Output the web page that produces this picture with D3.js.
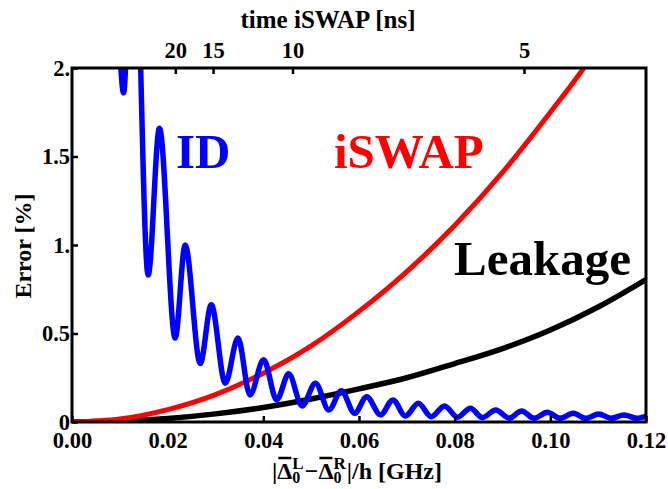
<!DOCTYPE html>
<html>
<head>
<meta charset="utf-8">
<script src="https://d3js.org/d3.v7.min.js"></script>
<style>
  body { margin: 0; background: #fff; }
  text { font-family: "Liberation Serif", "Times New Roman", serif; font-weight: bold; }
</style>
</head>
<body>
<div id="graph-area"></div>
<script>

    // x values in GHz, y values in %
    const iswapX = [0, 0.01, 0.02, 0.03, 0.04, 0.05, 0.06, 0.07, 0.08, 0.09, 0.10, 0.107, 0.112];
    const iswapY = [0, 0.017, 0.07, 0.155, 0.276, 0.43, 0.625, 0.85, 1.11, 1.41, 1.75, 2.0, 2.2];

    const leakX = [0, 0.01, 0.02, 0.03, 0.04, 0.05, 0.06, 0.07, 0.08, 0.09, 0.10, 0.11, 0.12];
    const leakY = [0, 0.005, 0.02, 0.046, 0.082, 0.13, 0.187, 0.25, 0.33, 0.415, 0.52, 0.65, 0.805];

    // peaks and troughs of the ID error curve
    const idX = [0.0060, 0.00796, 0.01079, 0.01277, 0.01592, 0.01828, 0.02157, 0.02366, 0.02681, 0.02911,
                 0.03204, 0.03470, 0.0372, 0.04006, 0.0428, 0.0453, 0.0481, 0.0509, 0.0537, 0.0563,
                 0.0591, 0.0616, 0.0645, 0.0671, 0.0697, 0.0724, 0.0751, 0.0779, 0.0806, 0.0833,
                 0.0858, 0.0886, 0.0914, 0.0940, 0.0966, 0.0994, 0.1020, 0.1048, 0.1074, 0.1101,
                 0.1127, 0.1154, 0.1181, 0.12];
    const idY = [6.0, 4.0, 1.86, 3.2, 0.83, 1.66, 0.474, 1.00, 0.33, 0.663,
                 0.219, 0.474, 0.153, 0.351, 0.125, 0.272, 0.091, 0.219, 0.068, 0.177,
                 0.049, 0.143, 0.040, 0.125, 0.034, 0.106, 0.030, 0.091, 0.027, 0.078,
                 0.025, 0.068, 0.022, 0.062, 0.021, 0.055, 0.021, 0.049, 0.021, 0.045,
                 0.021, 0.040, 0.021, 0.034];

    const xTicks = [0, 0.02, 0.04, 0.06, 0.08, 0.10, 0.12];
    const yTicks = [0, 0.5, 1, 1.5, 2];
    const yTickLabels = ["0", "0.5", "1.", "1.5", "2."];
    // top axis: iSWAP time in ns and where it falls on the bottom axis
    const topTickLabels = ["20", "15", "10", "5"];
    const topTickX = [0.0216, 0.0295, 0.0461, 0.0945];

    const w = 668;
    const h = 489;
    const pLeft = 72, pRight = 646, pTop = 68, pBottom = 422;

    const xScale = d3.scaleLinear().domain([0, 0.12]).range([pLeft, pRight]);
    const yScale = d3.scaleLinear().domain([0, 2]).range([pBottom, pTop]);

    const svg = d3.select("#graph-area").append("svg")
                  .attr("width", w)
                  .attr("height", h);

    svg.append("defs").append("clipPath").attr("id", "plot-clip")
       .append("rect")
       .attr("x", pLeft).attr("y", pTop)
       .attr("width", pRight - pLeft).attr("height", pBottom - pTop);

    const line = d3.line()
                   .x((d) => xScale(d[0]))
                   .y((d) => yScale(d[1]))
                   .curve(d3.curveMonotoneX);

    const plot = svg.append("g").attr("clip-path", "url(#plot-clip)");

    plot.append("path")
        .datum(leakX.map((x, i) => [x, leakY[i]]))
        .attr("d", line)
        .attr("fill", "none")
        .attr("stroke", "#000")
        .attr("stroke-width", 5.5);

    plot.append("path")
        .datum(iswapX.map((x, i) => [x, iswapY[i]]))
        .attr("d", line)
        .attr("fill", "none")
        .attr("stroke", "#ff0000")
        .attr("stroke-width", 5);

    plot.append("path")
        .datum(idX.map((x, i) => [x, idY[i]]))
        .attr("d", line)
        .attr("fill", "none")
        .attr("stroke", "#0000ff")
        .attr("stroke-width", 5.5);

    // frame
    svg.append("rect")
       .attr("x", pLeft).attr("y", pTop)
       .attr("width", pRight - pLeft).attr("height", pBottom - pTop)
       .attr("fill", "none")
       .attr("stroke", "#000")
       .attr("stroke-width", 3);

    // bottom axis
    const xAxis = d3.axisBottom(xScale)
                    .tickValues(xTicks)
                    .tickSizeInner(-6).tickSizeOuter(0)
                    .tickPadding(10)
                    .tickFormat(d3.format(".2f"));
    const gx = svg.append("g")
       .attr("transform", "translate(0," + pBottom + ")")
       .call(xAxis);
    gx.select(".domain").remove();
    gx.selectAll("line").attr("stroke-width", 2.5);
    gx.selectAll("text").style("font-size", "22.5px").attr("fill", "#000");

    // left axis
    const yAxis = d3.axisLeft(yScale)
                    .tickValues(yTicks)
                    .tickSizeInner(-6).tickSizeOuter(0)
                    .tickPadding(2)
                    .tickFormat((d, i) => yTickLabels[i]);
    const gy = svg.append("g")
       .attr("transform", "translate(" + pLeft + ",0)")
       .call(yAxis);
    gy.select(".domain").remove();
    gy.selectAll("line").attr("stroke-width", 2.5);
    gy.selectAll("text").style("font-size", "22.5px").attr("fill", "#000");

    // top axis (iSWAP time)
    const tAxis = d3.axisTop(xScale)
                    .tickValues(topTickX)
                    .tickSizeInner(-6).tickSizeOuter(0)
                    .tickPadding(10)
                    .tickFormat((d, i) => topTickLabels[i]);
    const gt = svg.append("g")
       .attr("transform", "translate(0," + pTop + ")")
       .call(tAxis);
    gt.select(".domain").remove();
    gt.selectAll("line").attr("stroke-width", 2.5);
    gt.selectAll("text").style("font-size", "22.5px").attr("fill", "#000");

    // axis titles
    svg.append("text")
       .attr("x", 328)
       .attr("y", 28)
       .style("text-anchor", "middle")
       .style("font-size", "25px")
       .text("time iSWAP [ns]");

    svg.append("text")
       .attr("transform", "translate(31," + 246 + ") rotate(-90)")
       .style("text-anchor", "middle")
       .style("font-size", "24px")
       .text("Error [%]");

    // x title: |Δ̄0^L − Δ̄0^R|/h [GHz], built piece by piece
    const xt = svg.append("g");
    let cx = 0;
    function piece(str) {
      const t = xt.append("text").attr("x", cx).attr("y", 0).style("font-size", "24px").text(str);
      const wd = t.node().getComputedTextLength();
      cx += wd;
      return wd;
    }
    function delta() {
      const wd = piece("\u0394");
      xt.append("line")
        .attr("x1", cx - wd + 1).attr("x2", cx - 1)
        .attr("y1", -21).attr("y2", -21)
        .attr("stroke", "#000").attr("stroke-width", 2.5);
    }
    function stack(sup, sub) {
      const a = xt.append("text").attr("x", cx).attr("y", -10).style("font-size", "17px").text(sup);
      const b = xt.append("text").attr("x", cx).attr("y", 4).style("font-size", "16px").text(sub);
      cx += Math.max(a.node().getComputedTextLength(), b.node().getComputedTextLength()) + 1;
    }
    piece("|");
    delta();
    stack("L", "0");
    piece("\u2212");
    delta();
    stack("R", "0");
    piece("|/h [GHz]");
    xt.attr("transform", "translate(" + (357 - cx / 2) + ",479)");

    // curve labels
    svg.append("text").attr("x", 176).attr("y", 168)
       .style("font-size", "49px").attr("fill", "#0000ff").text("ID");
    svg.append("text").attr("x", 334).attr("y", 168)
       .style("font-size", "49px").attr("fill", "#ff0000").text("iSWAP");
    svg.append("text").attr("x", 454).attr("y", 275)
       .style("font-size", "49px").attr("fill", "#000").text("Leakage");

</script>
</body>
</html>
